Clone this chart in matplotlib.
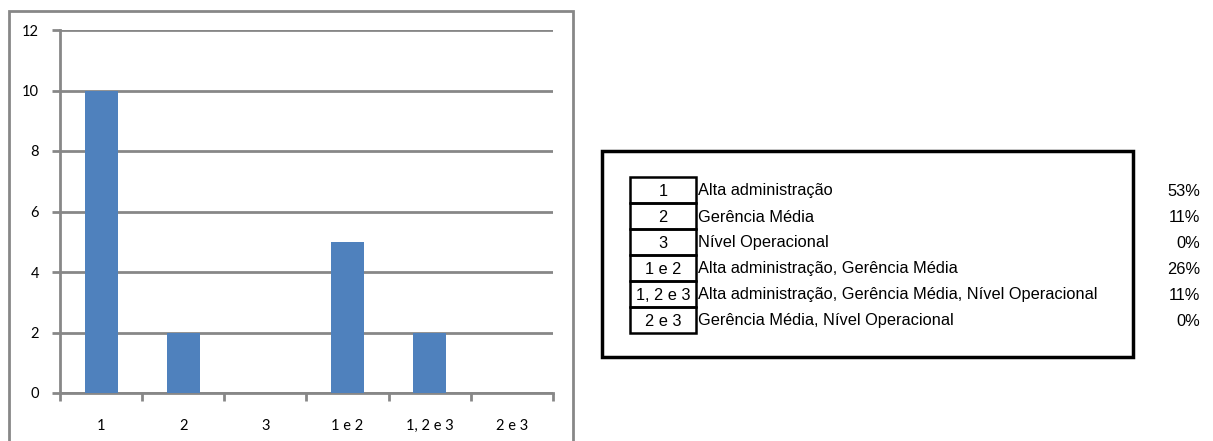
import matplotlib.pyplot as plt
from matplotlib.patches import Rectangle
import numpy as np

# respostas por nível hierárquico
categorias = ['1', '2', '3', '1 e 2', '1, 2 e 3', '2 e 3']
descricoes = [
    'Alta administração',
    'Gerência Média',
    'Nível Operacional',
    'Alta administração, Gerência Média',
    'Alta administração, Gerência Média, Nível Operacional',
    'Gerência Média, Nível Operacional',
]
contagens = [10, 2, 0, 5, 2, 0]

W, H = 1213, 441
fig = plt.figure(figsize=(W / 100, H / 100), dpi=100)

cinza = '#878787'
azul = '#4f81bd'


def fx(px):
    return px / W


def fy(py):
    return 1 - py / H


# moldura do gráfico
fig.patches.append(Rectangle((fx(9), fy(445)), fx(573) - fx(9), fy(11) - fy(445),
                             transform=fig.transFigure, fill=False,
                             edgecolor=cinza, linewidth=2))

# gráfico de barras
ax = fig.add_axes([fx(60), fy(393), fx(553) - fx(60), fy(30) - fy(393)])
x = np.arange(len(categorias))
ax.bar(x, contagens, width=0.4, color=azul, zorder=3)
ax.set_xlim(-0.5, len(categorias) - 0.5)
ax.set_ylim(0, 12)
ax.set_yticks(range(0, 13, 2))
ax.yaxis.grid(True, color=cinza, linewidth=2)
ax.set_axisbelow(True)
for s in ['top', 'right']:
    ax.spines[s].set_visible(False)
for s in ['left', 'bottom']:
    ax.spines[s].set_color(cinza)
    ax.spines[s].set_linewidth(2)
ax.set_xticks(x)
ax.set_xticklabels(categorias)
ax.set_xticks(np.arange(-0.5, len(categorias)), minor=True)
ax.tick_params(axis='x', which='major', length=0, pad=19)
ax.tick_params(axis='x', which='minor', length=6, width=2, color=cinza)
ax.tick_params(axis='y', length=6, width=2, color=cinza, pad=9)
for lab in ax.get_xticklabels() + ax.get_yticklabels():
    lab.set_fontfamily('Lato')
    lab.set_fontsize(10.5)

# quadro com a legenda das categorias
tab = fig.add_axes([0, 0, 1, 1])
tab.set_xlim(0, W)
tab.set_ylim(H, 0)
tab.axis('off')
tab.add_patch(Rectangle((602, 151), 1133 - 602, 357 - 151, fill=False,
                        edgecolor='black', linewidth=2.5))

total = sum(contagens)
y0, altura = 177, 26
for i, (cat, desc, n) in enumerate(zip(categorias, descricoes, contagens)):
    yt = y0 + i * altura
    tab.add_patch(Rectangle((630, yt), 66, altura, fill=False,
                            edgecolor='black', linewidth=1.8))
    yc = yt + altura / 2 + 1
    tab.text(663, yc, cat, ha='center', va='center',
             fontfamily='Liberation Sans', fontsize=11.8)
    tab.text(698, yc, desc, ha='left', va='center',
             fontfamily='Liberation Sans', fontsize=11.8)
    tab.text(1200, yc, f'{round(100 * n / total)}%', ha='right', va='center',
             fontfamily='Liberation Sans', fontsize=11.8)

fig.savefig('out.png', dpi=100)
